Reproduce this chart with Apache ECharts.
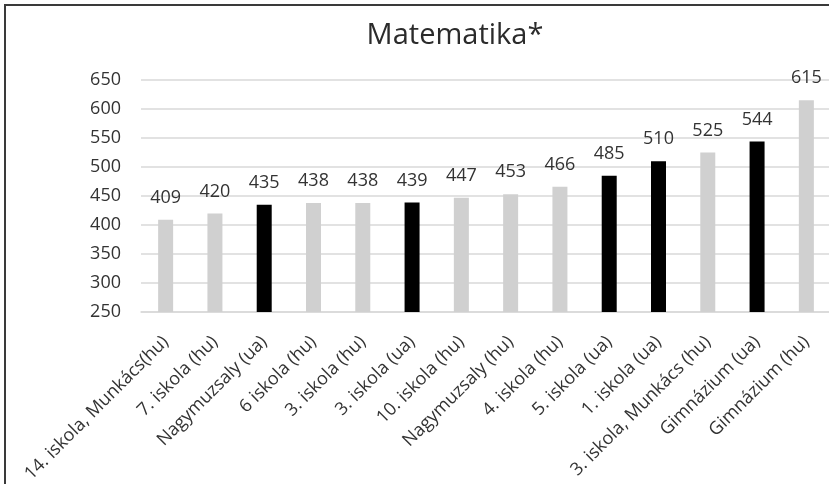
<!DOCTYPE html>
<html>
<head>
<meta charset="utf-8">
<script src="https://cdn.jsdelivr.net/npm/echarts@6/dist/echarts.min.js"></script>
<style>
html,body{margin:0;padding:0;background:#fff;}
#chart{width:829px;height:484px;}
</style>
</head>
<body>
<div id="chart"></div>
<script>
const titleText = "Matematika*";
const categories = ["14. iskola, Munkács(hu)", "7. iskola (hu)", "Nagymuzsaly (ua)", "6 iskola (hu)", "3. iskola (hu)", "3. iskola (ua)", "10. iskola (hu)", "Nagymuzsaly (hu)", "4. iskola (hu)", "5. iskola (ua)", "1. iskola (ua)", "3. iskola, Munkács (hu)", "Gimnázium (ua)", "Gimnázium (hu)"];
const values = [409, 420, 435, 438, 438, 439, 447, 453, 466, 485, 510, 525, 544, 615];
const groups = ["hu", "hu", "ua", "hu", "hu", "ua", "hu", "hu", "hu", "ua", "ua", "hu", "ua", "hu"];
const groupColors = { hu: "#d0d0d0", ua: "#000000" };
const yMin = 250, yMax = 650, yStep = 50;

const FONT = "'Open Sans', sans-serif";
const chart = echarts.init(document.getElementById('chart'), null, { renderer: 'canvas' });
chart.setOption({
  animation: false,
  backgroundColor: '#ffffff',
  graphic: [{
    type: 'rect',
    shape: { x: 5, y: 5, width: 1000, height: 1000 },
    style: { fill: 'none', stroke: '#3a3a3a', lineWidth: 2 },
    silent: true
  }],
  title: {
    text: titleText,
    left: 450, top: 16,
    textAlign: 'center',
    textStyle: { fontFamily: FONT, fontSize: 29, fontWeight: 'normal', color: '#2b2b2b' }
  },
  grid: { left: 141, top: 80, width: 690, bottom: 172, outerBoundsMode: 'none', containLabel: false },
  xAxis: {
    type: 'category',
    data: categories,
    axisLine: { show: true, lineStyle: { color: '#d9d9d9', width: 1.5 } },
    axisTick: { show: false },
    axisLabel: { rotate: 45, margin: 27, interval: 0, fontFamily: FONT, fontSize: 18, color: '#333333' }
  },
  yAxis: {
    type: 'value',
    min: yMin, max: yMax, interval: yStep,
    axisLine: { show: false },
    axisTick: { show: false },
    splitLine: { lineStyle: { color: '#d9d9d9', width: 1.5 } },
    axisLabel: { margin: 20, fontFamily: FONT, fontSize: 18, color: '#333333' }
  },
  series: [{
    type: 'bar',
    barWidth: 15,
    data: values.map((v, i) => ({ value: v, itemStyle: { color: groupColors[groups[i]] } })),
    label: { show: true, position: 'top', distance: 13, fontFamily: FONT, fontSize: 18, color: '#333333' }
  }]
});
</script>
</body>
</html>
